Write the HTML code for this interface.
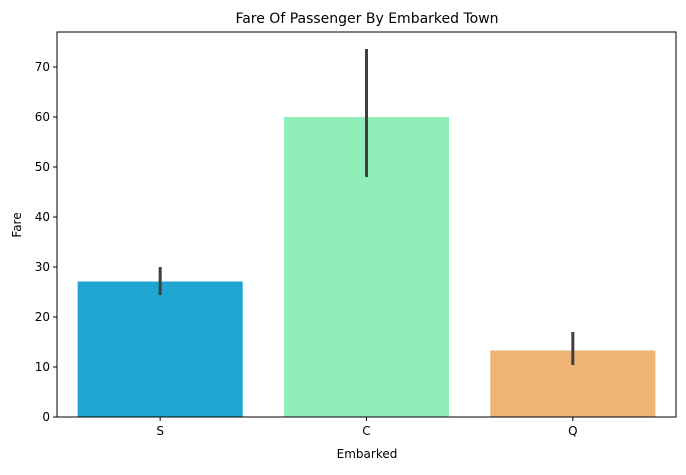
<!DOCTYPE html>
<html><head><meta charset="utf-8"><style>
body{margin:0;background:#fff;font-family:"Liberation Sans","DejaVu Sans",sans-serif;}
svg text{font-family:"DejaVu Sans","Liberation Sans",sans-serif;}
</style></head><body>
<svg id="chart" width="686" height="470" xmlns="http://www.w3.org/2000/svg">
<rect width="686" height="470" fill="#fff"/>
<text x="367" y="23" text-anchor="middle" font-size="14" fill="#000">Fare Of Passenger By Embarked Town</text>
<g id="bars"></g><g id="ticks"></g>
<rect x="57" y="32" width="619" height="385" fill="none" stroke="#000" stroke-width="1"/>
<text x="367" y="458" text-anchor="middle" font-size="12">Embarked</text>
<text transform="translate(21,225) rotate(-90)" text-anchor="middle" font-size="12">Fare</text>
</svg>
<script>
const categories=["S","C","Q"];
const fares=[27.1,60.0,13.3];
const errLow=[24.4,48.0,10.4];
const errHigh=[30.0,73.6,17.0];
const colors=["#1fa5cf","#90efb8","#edb476"];
const yTicks=[0,10,20,30,40,50,60,70];
const NS="http://www.w3.org/2000/svg";
const L=57,R=676,T=32,B=417;
const y=v=>B-v*5;
const step=(R-L)/categories.length;
const x=i=>L+step*(i+0.5);
function mk(t,a,p){const e=document.createElementNS(NS,t);for(const k in a)e.setAttribute(k,a[k]);p.appendChild(e);return e;}
const gb=document.getElementById('bars'),gt=document.getElementById('ticks');
categories.forEach((c,i)=>{
 const w=step*0.8;
 const r=mk('rect',{x:x(i)-w/2,y:y(fares[i]),width:w,height:B-y(fares[i]),fill:colors[i]},gb);
 
 
 const e=mk('line',{x1:x(i),x2:x(i),y1:y(errLow[i]),y2:y(errHigh[i]),stroke:'#3f3f3f','stroke-width':3},gb);
 
 
 mk('line',{x1:x(i),x2:x(i),y1:B,y2:B+4,stroke:'#000'},gt);
 const t=mk('text',{x:x(i),y:B+18,'text-anchor':'middle','font-size':12},gt);
 t.textContent=c;
 
 
});
yTicks.forEach(v=>{
 mk('line',{x1:L-4,x2:L,y1:y(v),y2:y(v),stroke:'#000'},gt);
 const t=mk('text',{x:L-7,y:y(v)+4,'text-anchor':'end','font-size':12},gt);
 t.textContent=v;
 
 
});
</script>
</body></html>
